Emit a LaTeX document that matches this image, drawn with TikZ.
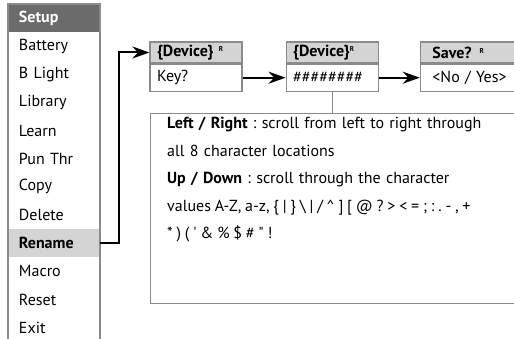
\documentclass[tikz,border=0pt]{standalone}
\usepackage{fontspec}
\setmainfont{PT Sans}
\usetikzlibrary{positioning, arrows.meta}
\definecolor{frame}{HTML}{8A8A8A}
\definecolor{darkhead}{HTML}{6B6B6B}
\definecolor{lighthead}{HTML}{D4D4D4}
\newcommand{\regmark}{\raisebox{5pt}{\fontsize{7}{7}\selectfont\bfseries R}}

\begin{document}
\begin{tikzpicture}[x=1pt, y=-1pt, >={Stealth[length=17pt, width=12pt]},
    menuitem/.style={rectangle, minimum height=27.75pt, text width=70pt, inner xsep=11pt, inner ysep=0pt, align=left, font=\fontsize{16}{18}\selectfont},
    menuhead/.style={menuitem, fill=darkhead, text=white, font=\fontsize{16}{18}\selectfont\bfseries},
    boxhead/.style={rectangle, draw=frame, line width=1.2pt, fill=lighthead, minimum height=21pt, text width=78pt, inner xsep=7pt, inner ysep=0pt, align=left, font=\fontsize{16}{18}\selectfont\bfseries},
    boxbody/.style={boxhead, fill=white, minimum height=27pt, font=\fontsize{16}{18}\selectfont},
    link/.style={->, line width=2pt}]
    \useasboundingbox (0,0) rectangle (514,339);

    % menu
    \node (setup) [menuhead] at (54,18) {Setup};
    \node (battery) [menuitem, below=0pt of setup] {Battery};
    \node (blight) [menuitem, below=0pt of battery] {B Light};
    \node (library) [menuitem, below=0pt of blight] {Library};
    \node (learn) [menuitem, below=0pt of library] {Learn};
    \node (punthr) [menuitem, below=0pt of learn] {Pun Thr};
    \node (copy) [menuitem, below=0pt of punthr] {Copy};
    \node (delete) [menuitem, below=0pt of copy] {Delete};
    \node (rename) [menuitem, fill=lighthead, font=\fontsize{16}{18}\selectfont\bfseries, below=0pt of delete] {Rename};
    \node (macro) [menuitem, below=0pt of rename] {Macro};
    \node (reset) [menuitem, below=0pt of macro] {Reset};
    \node (exit) [menuitem, below=0pt of reset] {Exit};
    \draw[frame, line width=1.5pt] (setup.north west) rectangle (exit.south east);

    % rename steps
    \node (dev1) [boxhead] at (196,52.5) {\{Device\} \regmark};
    \node (key) [boxbody, below=0pt of dev1] {Key?};
    \node (dev2) [boxhead, right=43pt of dev1] {\{Device\}\regmark};
    \node (hash) [boxbody, below=0pt of dev2] {\#\#\#\#\#\#\#\#};
    \node (save) [boxhead, text width=96pt, inner xsep=12pt, right=41pt of dev2] {Save? \regmark};
    \node (yesno) [boxbody, text width=96pt, inner xsep=12pt, below=0pt of save] {<No / Yes>};

    \draw[link] (rename.east) -- ++(19,0) |- (dev1.west);
    \draw[link] (key) -- (hash);
    \draw[link] (hash) -- (yesno);

    % help text
    \node (infobox) [draw=frame, line width=1.2pt, minimum width=390pt, minimum height=190pt, anchor=north west] at (150,113) {};
    \node (infotext) [anchor=north west, inner sep=0pt, text width=360pt, align=left, font=\fontsize{16}{27.6}\selectfont\frenchspacing] at ([shift={(17,4)}]infobox.north west)
        {\textbf{Left / Right} : scroll from left to right through\\
         all 8 character locations\\
         \textbf{Up / Down} : scroll through the character\\
         {\spaceskip=3.8pt values A-Z, a-z, \{ | \} \textbackslash\ | / \textasciicircum\ ] [ @ ? > < = ; : . - , +}\\{}%
         {\spaceskip=3.8pt * ) ( \textquotesingle\ \& \% \$ \# \textquotedbl\ !}};
    \draw[frame, line width=1.2pt] (hash.south) -- (hash.south |- infobox.north);
\end{tikzpicture}
\end{document}
